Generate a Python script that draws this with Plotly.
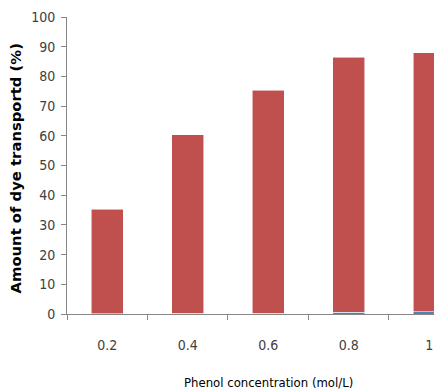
import plotly.graph_objects as go

categories = ["0.2", "0.4", "0.6", "0.8", "1"]
blue_values = [0.05, 0.2, 0.3, 0.6, 0.8]
red_values = [35.25, 60.1, 75.1, 85.9, 87.2]
y_ticks = [0, 10, 20, 30, 40, 50, 60, 70, 80, 90, 100]

fig = go.Figure()
fig.add_trace(go.Bar(x=categories, y=blue_values, marker=dict(color="#4F81BD", line=dict(color="white", width=0.5)), width=0.4))
fig.add_trace(go.Bar(x=categories, y=red_values, marker=dict(color="#C0504D", line=dict(color="rgba(255,255,255,0.7)", width=0.8)), width=0.4))

narrow = "Liberation Sans Narrow, DejaVu Sans Condensed, Arial Narrow, sans-serif"
fig.update_layout(
    width=434, height=392,
    barmode="stack",
    showlegend=False,
    plot_bgcolor="white", paper_bgcolor="white",
    margin=dict(l=67, r=0, t=17, b=78, autoexpand=False),
    xaxis=dict(
        type="category", range=[-0.5, 4.06], tickson="boundaries",
        ticks="outside", ticklen=5, tickcolor="#868686",
        showline=True, linecolor="#868686", linewidth=1,
        showgrid=False, zeroline=False, automargin=False,
        tickfont=dict(family=narrow, size=14, color="#404040"),
        ticklabelstandoff=18,
    ),
    yaxis=dict(
        range=[0, 100], tickvals=y_ticks,
        ticks="outside", ticklen=5, tickcolor="#868686",
        showline=True, linecolor="#868686", linewidth=1,
        showgrid=False, zeroline=False, automargin=False,
        tickfont=dict(family=narrow, size=14, color="#404040"),
        ticklabelstandoff=3,
    ),
    annotations=[
        dict(text="Phenol concentration (mol/L)", xref="paper", yref="paper",
             x=0.548, y=-0.229, xanchor="center", yanchor="middle", showarrow=False,
             font=dict(family=narrow, size=13, color="#000000")),
        dict(text="<b>Amount of dye transportd (%)</b>", xref="paper", yref="paper",
             x=-52/367, y=0.49, xanchor="center", yanchor="middle", showarrow=False, textangle=-90,
             font=dict(family="DejaVu Sans, sans-serif", size=14.8, color="#000000")),
    ],
)
fig.write_html("out.html", config={"displayModeBar": False},
               post_script="document.body.style.margin='0';")
